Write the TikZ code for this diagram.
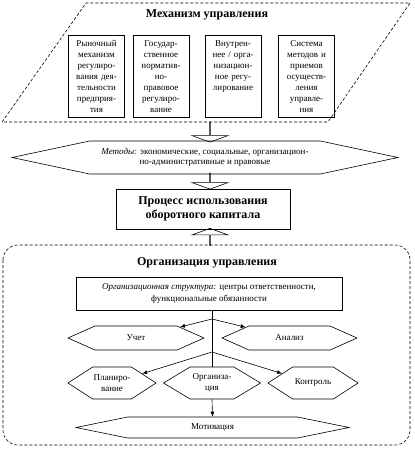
\documentclass[tikz,border=0pt]{standalone}
\usepackage{fontspec}
\setmainfont{Liberation Serif}
\usetikzlibrary{shapes.symbols,shapes.arrows,arrows.meta}

\tikzset{
	dashline/.style={line width=0.6pt, dash pattern=on 3pt off 2pt},
	mechbox/.style={draw, line width=0.6pt, anchor=north, align=center, font=\fontsize{9}{11}\selectfont, text width=50pt, inner xsep=3pt, inner ysep=3pt, text height=8pt, text depth=68pt},
	hexbox/.style={draw, line width=0.6pt, signal, signal to=west and east, align=center, font=\fontsize{9}{11}\selectfont, inner sep=1pt},
	plainbox/.style={draw, line width=0.6pt, align=center},
	blockarrow/.style={draw, line width=0.6pt, single arrow, inner sep=0pt, minimum width=36pt, single arrow head extend=8pt, single arrow tip angle=140, minimum height=20pt},
	titletext/.style={font=\bfseries\fontsize{12}{14}\selectfont},
	smallarrow/.style={line width=0.6pt, -{Latex[length=5pt,width=4pt]}},
}

\begin{document}
\begin{tikzpicture}[x=1pt, y=-1pt]
	\useasboundingbox (0,0) rectangle (415,450);

	% mechanism
	\draw[dashline] (2,122) -- (86,3) -- (410,3) -- (328,122) -- cycle;
	\draw (207,15) node[titletext] (mechtitle) {Механизм управления};
	\draw (96.5,35) node[mechbox] (rynok) {Рыночный\\механизм\\регулиро-\\вания дея-\\тельности\\предприя-\\тия};
	\draw (161,35) node[mechbox] (gos) {Государ-\\ственное\\норматив-\\но-\\правовое\\регулиро-\\вание};
	\draw (233,35) node[mechbox] (vnutr) {Внутрен-\\нее / орга-\\низацион-\\ное регу-\\лирование};
	\draw (306.5,35) node[mechbox] (sistema) {Система\\методов и\\приемов\\осуществ-\\ления\\управле-\\ния};

	% methods and process
	\draw (205,157.5) node[hexbox, signal pointer angle=24, minimum width=386pt, minimum height=33pt, font=\fontsize{9}{10}\selectfont] (metody) {\textit{Методы:} экономические, социальные, организацион-\\но-административные и правовые};
	\draw (203,209) node[plainbox, titletext, minimum width=174pt, minimum height=40pt] (process) {Процесс использования\\оборотного капитала};

	\draw (210,132) node[blockarrow, rotate=-90] (arrA) {};
	\draw (210,181) node[blockarrow, rotate=-90, minimum height=16pt] (arrB) {};
	\draw (210,237) node[blockarrow, rotate=90, minimum height=17pt] (arrC) {};

	% organization
	\draw[dashline, rounded corners=15pt] (3,245) rectangle (410,445);
	\draw (207,263) node[titletext] (orgtitle) {Организация управления};
	\draw (209,293.5) node[plainbox, minimum width=266pt, minimum height=33pt, font=\fontsize{9}{12}\selectfont] (struktura) {\textit{Организационная структура:} центры ответственности,\\функциональные обязанности};

	\draw (136,338) node[hexbox, signal pointer angle=48, minimum width=136pt, minimum height=24pt] (uchet) {Учет};
	\draw (289.5,338) node[hexbox, signal pointer angle=48, minimum width=135pt, minimum height=24pt] (analiz) {Анализ};
	\draw (112,383) node[hexbox, signal pointer angle=66, minimum width=88pt, minimum height=32pt] (plan) {Планиро-\\вание};
	\draw (212,383) node[hexbox, signal pointer angle=62, minimum width=97pt, minimum height=32pt] (organiz) {Организа-\\ция};
	\draw (313,383) node[hexbox, signal pointer angle=66, minimum width=90pt, minimum height=32pt] (kontrol) {Контроль};
	\draw (212.5,427.5) node[hexbox, signal pointer angle=23, minimum width=273pt, minimum height=21pt] (motiv) {Мотивация};

	\coordinate (forkA) at (212,319);
	\coordinate (forkB) at (212,352);
	\draw[line width=0.6pt] (struktura.south -| organiz.north) -- (organiz.north);
	\draw[smallarrow] (forkA) -- (uchet);
	\draw[smallarrow] (forkA) -- (analiz);
	\draw[smallarrow] (forkB) -- (plan);
	\draw[smallarrow] (forkB) -- (kontrol);
	\draw[smallarrow] (organiz.south) -- (motiv.north);
\end{tikzpicture}
\end{document}
